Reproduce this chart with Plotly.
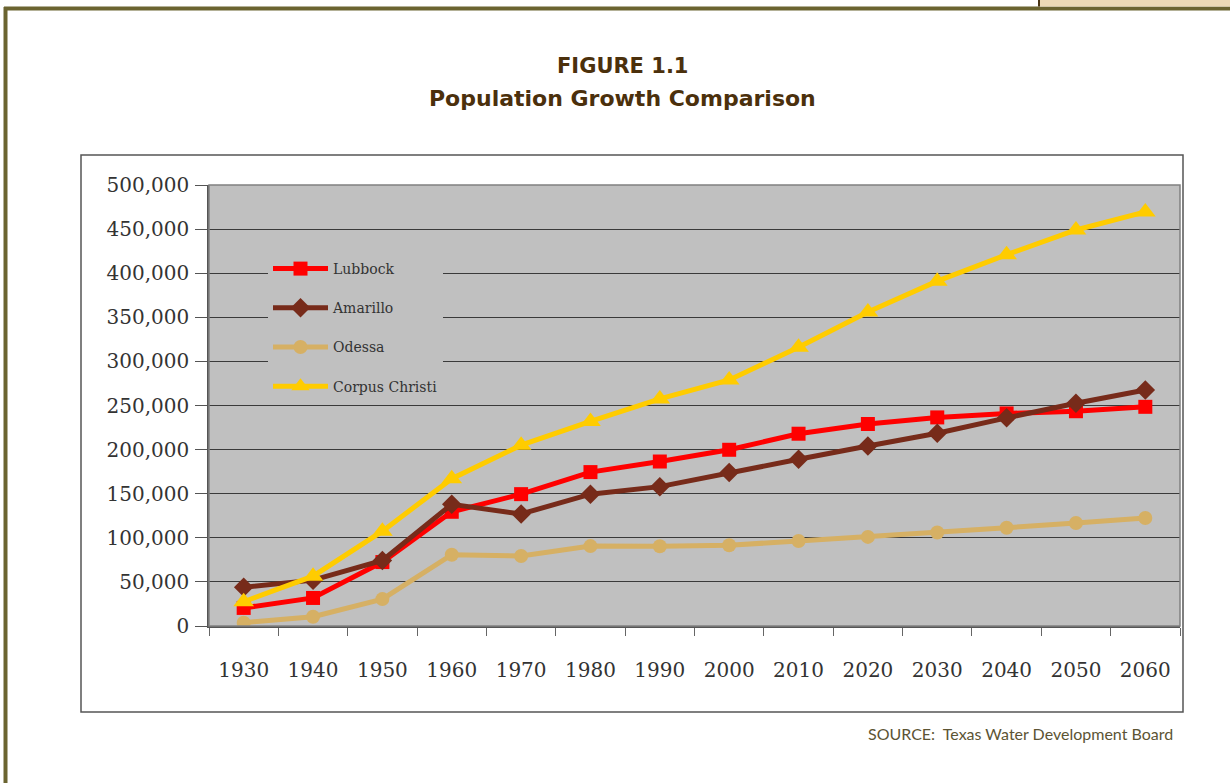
import plotly.graph_objects as go

# Data
years = ["1930", "1940", "1950", "1960", "1970", "1980", "1990",
         "2000", "2010", "2020", "2030", "2040", "2050", "2060"]
lubbock = [20500, 31800, 72500, 129500, 149500, 174500, 186500,
           199800, 218000, 229000, 236500, 241000, 243500, 248500]
amarillo = [43800, 52000, 74300, 138000, 127000, 149500, 158000,
            174000, 189000, 204000, 218500, 236000, 252500, 267500]
odessa = [3800, 10500, 30500, 80800, 79300, 90600, 90400,
          91600, 96300, 101000, 106000, 111400, 116800, 122500]
corpus = [27500, 56500, 107500, 167000, 205000, 232000, 257500,
          279000, 316000, 356000, 391000, 421000, 449000, 469500]

series = [
    ("Lubbock", lubbock, "#ff0000", "square", 14),
    ("Amarillo", amarillo, "#772b1a", "diamond", 15),
    ("Odessa", odessa, "#d6b064", "circle", 14),
    ("Corpus Christi", corpus, "#ffcc00", "triangle-up", 18),
]

W, H = 1230, 783
PL, PR, PT, PB = 209, 1180, 185, 626  # plot area in pixels


def px(x):
    return (x - PL) / (PR - PL)


def py(y):
    return (PB - y) / (PB - PT)


fig = go.Figure()
for i, (name, vals, color, symbol, size) in enumerate(series):
    fig.add_trace(go.Scatter(
        x=years, y=vals, name=name, mode="lines+markers",
        legendgroup=str(i),
        line=dict(color=color, width=5),
        marker=dict(symbol=symbol, size=size, color=color, line=dict(width=0)),
    ))

serif = "DejaVu Serif"
fig.update_layout(
    width=W, height=H,
    margin=dict(l=PL, r=W - PR, t=PT, b=H - PB),
    paper_bgcolor="white",
    plot_bgcolor="#c0c0c0",
    showlegend=True,
    legend=dict(
        x=px(268), y=py(253), xanchor="left", yanchor="top",
        bgcolor="#c0c0c0", borderwidth=0,
        font=dict(family=serif, size=14, color="#333333"),
        itemwidth=55, tracegroupgap=18,
    ),
    xaxis=dict(
        type="category", range=[-0.5, len(years) - 0.5],
        tickson="boundaries", ticks="outside",
        ticklen=8, tickcolor="#666666", showgrid=False,
        showline=True, linecolor="#555555", linewidth=1.5,
        tickfont=dict(family=serif, size=20, color="#333333"),
        ticklabelstandoff=25,
    ),
    yaxis=dict(
        range=[0, 500000], dtick=50000, tickformat=",d",
        ticks="outside", ticklen=12, tickcolor="#555555",
        showgrid=True, gridcolor="#3a3a3a", gridwidth=1,
        zeroline=False, showline=True, linecolor="#555555", linewidth=1.5,
        tickfont=dict(family=serif, size=20, color="#333333"),
        ticklabelstandoff=2,
    ),
    shapes=[
        # page frame
        dict(type="line", xref="paper", yref="paper", x0=px(4), x1=px(1230),
             y0=py(8.5), y1=py(8.5), line=dict(color="#6b6430", width=4)),
        dict(type="line", xref="paper", yref="paper", x0=px(5.5), x1=px(5.5),
             y0=py(7), y1=py(783), line=dict(color="#6b6430", width=4)),
        dict(type="rect", xref="paper", yref="paper", x0=px(1040), x1=px(1230),
             y0=py(0), y1=py(6.5), fillcolor="#ecd9b5", line=dict(width=0)),
        dict(type="line", xref="paper", yref="paper", x0=px(1039), x1=px(1039),
             y0=py(0), y1=py(6.5), line=dict(color="#4a3515", width=2)),
        # chart box
        dict(type="rect", xref="paper", yref="paper", x0=px(81), x1=px(1183),
             y0=py(155), y1=py(712), line=dict(color="#555555", width=1.5)),
        # plot area border
        dict(type="rect", xref="paper", yref="paper", x0=0, x1=1, y0=0, y1=1,
             line=dict(color="#808080", width=1.5)),
    ],
    annotations=[
        dict(text="<b>FIGURE 1.1</b>", xref="paper", yref="paper",
             x=px(622), y=py(66), xanchor="center", yanchor="middle",
             showarrow=False,
             font=dict(family="DejaVu Sans", size=21, color="#4b300c")),
        dict(text="<b>Population Growth Comparison</b>", xref="paper", yref="paper",
             x=px(622), y=py(98), xanchor="center", yanchor="middle",
             showarrow=False,
             font=dict(family="DejaVu Sans", size=22, color="#4b300c")),
        dict(text="SOURCE:&nbsp;&nbsp;Texas Water Development Board",
             xref="paper", yref="paper", x=px(1175), y=py(733),
             xanchor="right", yanchor="middle", showarrow=False,
             font=dict(family="Lato", size=16, color="#5c5434")),
    ],
)

fig.write_html("out.html", config={"displayModeBar": False},
               post_script="document.body.style.margin='0';")
